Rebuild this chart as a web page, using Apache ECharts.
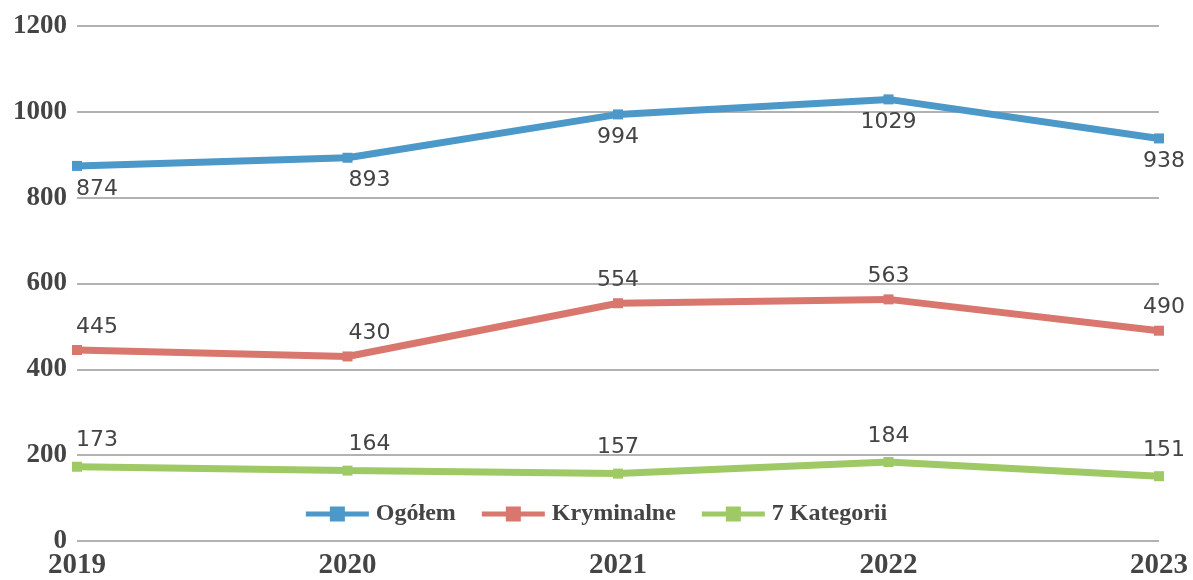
<!DOCTYPE html>
<html><head><meta charset="utf-8">
<script src="https://cdn.jsdelivr.net/npm/echarts@6/dist/echarts.min.js"></script>
<style>html,body{margin:0;padding:0;background:#fff}#c{width:1193px;height:580px}</style>
</head><body><div id="c"></div>
<script>
const years = ['2019','2020','2021','2022','2023'];
const ogolem = [874, 893, 994, 1029, 938];
const kryminalne = [445, 430, 554, 563, 490];
const kategorii = [173, 164, 157, 184, 151];
const yTicks = [0, 200, 400, 600, 800, 1000, 1200];

const labelDx = [20, 22, 0, 0, 5];
const legendIcon = 'path://M0,5H24V0H39V5H63V10H39V15H24V10H0Z';
function mk(name, vals, color, pos, dist) {
  return {
    name: name, type: 'line', data: vals.map((v, i) => ({
      value: v, label: { offset: [labelDx[i], 0] }
    })),
    symbol: 'rect', symbolSize: 10, showAllSymbol: true,
    lineStyle: { color: color, width: 7 }, itemStyle: { color: color },
    label: { show: true, position: pos, distance: dist, color: '#444',
      fontFamily: 'DejaVu Sans', fontSize: 22 },
    emphasis: { disabled: true }, animation: false
  };
}
const chart = echarts.init(document.getElementById('c'));
chart.setOption({
  animation: false,
  grid: { left: 77, right: 34, top: 26, bottom: 39, containLabel: false },
  legend: {
    bottom: 49, left: 'center', itemWidth: 63, itemHeight: 15, itemGap: 26,
    textStyle: { fontFamily: 'Liberation Serif', fontWeight: 'bold', fontSize: 24, color: '#444', padding: [0, 0, 0, 2] },
    data: [
      { name: 'Ogółem', icon: legendIcon },
      { name: 'Kryminalne', icon: legendIcon },
      { name: '7 Kategorii', icon: legendIcon }
    ]
  },
  xAxis: {
    type: 'category', data: years, boundaryGap: false,
    axisLine: { show: false }, axisTick: { show: false },
    axisLabel: { margin: 10, fontFamily: 'Liberation Serif', fontWeight: 'bold', fontSize: 29, color: '#444' }
  },
  yAxis: {
    type: 'value', min: yTicks[0], max: yTicks[yTicks.length - 1], interval: 200,
    axisLine: { show: false }, axisTick: { show: false },
    splitLine: { lineStyle: { color: '#999', width: 1.5 } },
    axisLabel: { margin: 10, fontFamily: 'Liberation Serif', fontWeight: 'bold', fontSize: 27, color: '#444',
      formatter: v => String(v) }
  },
  series: [
    mk('Ogółem', ogolem, '#4b98c9', 'bottom', 7),
    mk('Kryminalne', kryminalne, '#d9776f', 'top', 7),
    mk('7 Kategorii', kategorii, '#9ec964', 'top', 10)
  ]
});
</script></body></html>
